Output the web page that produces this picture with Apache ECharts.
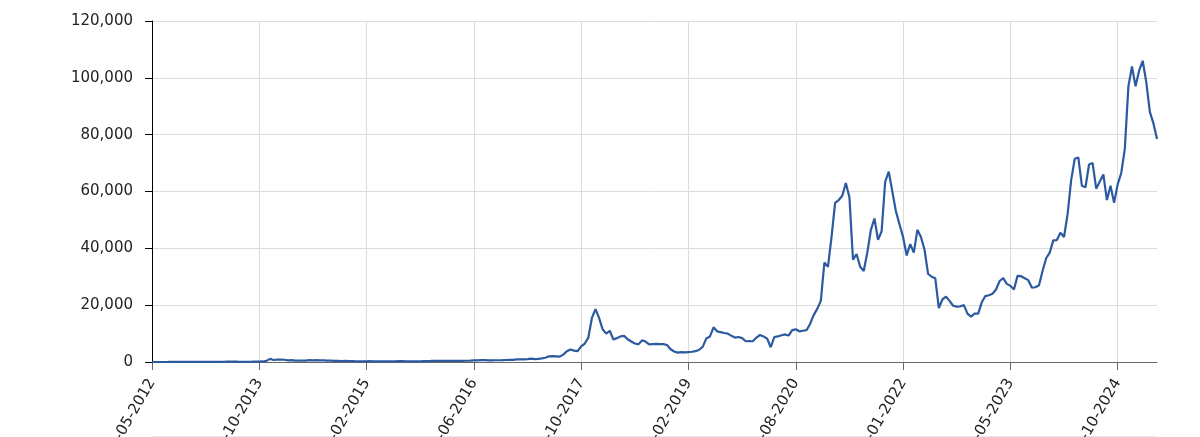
<!DOCTYPE html>
<html>
<head>
<meta charset="utf-8">
<script src="https://cdn.jsdelivr.net/npm/echarts@6/dist/echarts.min.js"></script>
<style>
html,body{margin:0;padding:0;background:#fff;}
#chart{width:1200px;height:437px;}
</style>
</head>
<body>
<div id="chart"></div>
<script>
// Tick label dates (every 30th category) and the final date
const tickLabels = ['26-05-2012','10-10-2013','22-02-2015','06-06-2016','18-10-2017','02-02-2019','12-08-2020','18-01-2022','28-05-2023','08-10-2024'];
const lastDate = '10-04-2025';
const stepsPerTick = 30;
const stepsAfterLastTick = 11;

// Price values (USD), by period
const prices2012 = [5,5,5.5,6.5,8,10,11,12,11,12,11,12,13,13,14,17,20,25,32,45,90,130,115,120,105,95,75,95,105,125,125];
const prices2013 = [190,400,1100,700,850,850,800,600,630,480,520,450,490,650,590,625,600,570,510,475,375,390,340,365,350,320,270,235,235,240];
const prices2015 = [290,250,235,225,240,237,230,250,310,295,265,230,235,240,250,315,335,370,440,430,430,380,400,435,415,420,430,445,455,580];
const prices2016 = [600,650,655,585,575,610,615,640,700,740,770,900,900,920,1000,1200,1000,1100,1250,1500,2000,2100,2000,1900,2600,3800,4400,4000,3800,5500];
const prices2017 = [6500,8600,15500,18600,15500,11500,10000,11000,7900,8400,9000,9200,8000,7200,6500,6200,7600,7200,6200,6300,6400,6300,6300,6000,4500,3700,3300,3500,3400,3500];
const prices2019 = [3600,3800,4300,5400,8300,9000,12200,10800,10500,10200,10000,9200,8600,8800,8400,7300,7400,7300,8600,9500,9000,8200,5200,8800,9000,9400,9700,9300,11200,11500];
const prices2020 = [10800,11000,11200,13400,16500,18700,21500,35000,33500,44000,56000,57000,58500,63000,58000,36000,38000,33500,32000,38500,46500,50500,43000,46000,63500,67000,60000,53000,48500,44000];
const prices2022 = [37500,41500,38500,46500,44000,39500,31000,30000,29500,19000,22000,23000,21500,19800,19500,19600,20000,17000,16000,17000,17000,21000,23200,23500,24000,25500,28500,29500,27500,26800];
const prices2023 = [25500,30300,30200,29500,28800,26200,26300,27000,32000,36500,38500,42800,42900,45500,44000,52000,64000,71500,72000,62000,61500,69500,70000,61000,63500,66000,57000,62000,56000,62500];
const prices2024 = [66500,75000,97000,104000,97000,102500,106000,98500,88000,84000,78500];

const values = [].concat(prices2012, prices2013, prices2015, prices2016, prices2017, prices2019, prices2020, prices2022, prices2023, prices2024);

// Build category dates between the tick-label dates
function parseD(s){const p=s.split('-');return Date.UTC(+p[2],+p[1]-1,+p[0]);}
function fmt(t){const d=new Date(t);const dd=String(d.getUTCDate()).padStart(2,'0');const mm=String(d.getUTCMonth()+1).padStart(2,'0');return dd+'-'+mm+'-'+d.getUTCFullYear();}
const anchors = tickLabels.concat([lastDate]);
const categories = [];
for (let a=0; a<anchors.length-1; a++){
  const t0=parseD(anchors[a]), t1=parseD(anchors[a+1]);
  const n = (a===anchors.length-2) ? stepsAfterLastTick : stepsPerTick;
  for (let k=0;k<n;k++){
    categories.push(k===0 ? anchors[a] : fmt(t0 + Math.round((t1-t0)*k/n/86400000)*86400000));
  }
}
categories.push(lastDate);

const FONT = 'DejaVu Sans';
const chart = echarts.init(document.getElementById('chart'), null, {renderer:'canvas'});
chart.setOption({
  animation:false,
  backgroundColor:'#fff',
  grid:{left:152,right:43,top:21,bottom:75,containLabel:false,outerBoundsMode:'none'},
  xAxis:{
    type:'category',
    data:categories,
    boundaryGap:false,
    axisLine:{show:true,lineStyle:{color:'#666',width:1}},
    axisTick:{show:true,interval:stepsPerTick-1,length:8,lineStyle:{color:'#666'}},
    axisLabel:{interval:stepsPerTick-1,rotate:60,margin:18,fontFamily:FONT,fontSize:15,color:'#222'},
    splitLine:{show:true,interval:stepsPerTick-1,lineStyle:{color:'#dcdcdc',width:1}}
  },
  yAxis:{
    type:'value',
    min:0,max:120000,interval:20000,
    axisLine:{show:true,lineStyle:{color:'#000',width:1}},
    axisTick:{show:true,length:7,lineStyle:{color:'#000'}},
    axisLabel:{margin:19,fontFamily:FONT,fontSize:15,color:'#222',
      formatter:function(v){return v.toLocaleString('en-US');}},
    splitLine:{show:true,lineStyle:{color:'#dcdcdc',width:1}}
  },
  graphic:[{type:'line',shape:{x1:152,y1:436.5,x2:1157,y2:436.5},style:{stroke:'#e6e9ef',lineWidth:1},silent:true}],
  series:[{
    type:'line',
    data:values,
    showSymbol:false,
    symbol:'none',
    lineStyle:{color:'#2c5aa0',width:2.2},
    itemStyle:{color:'#2c5aa0'}
  }]
});
</script>
</body>
</html>
